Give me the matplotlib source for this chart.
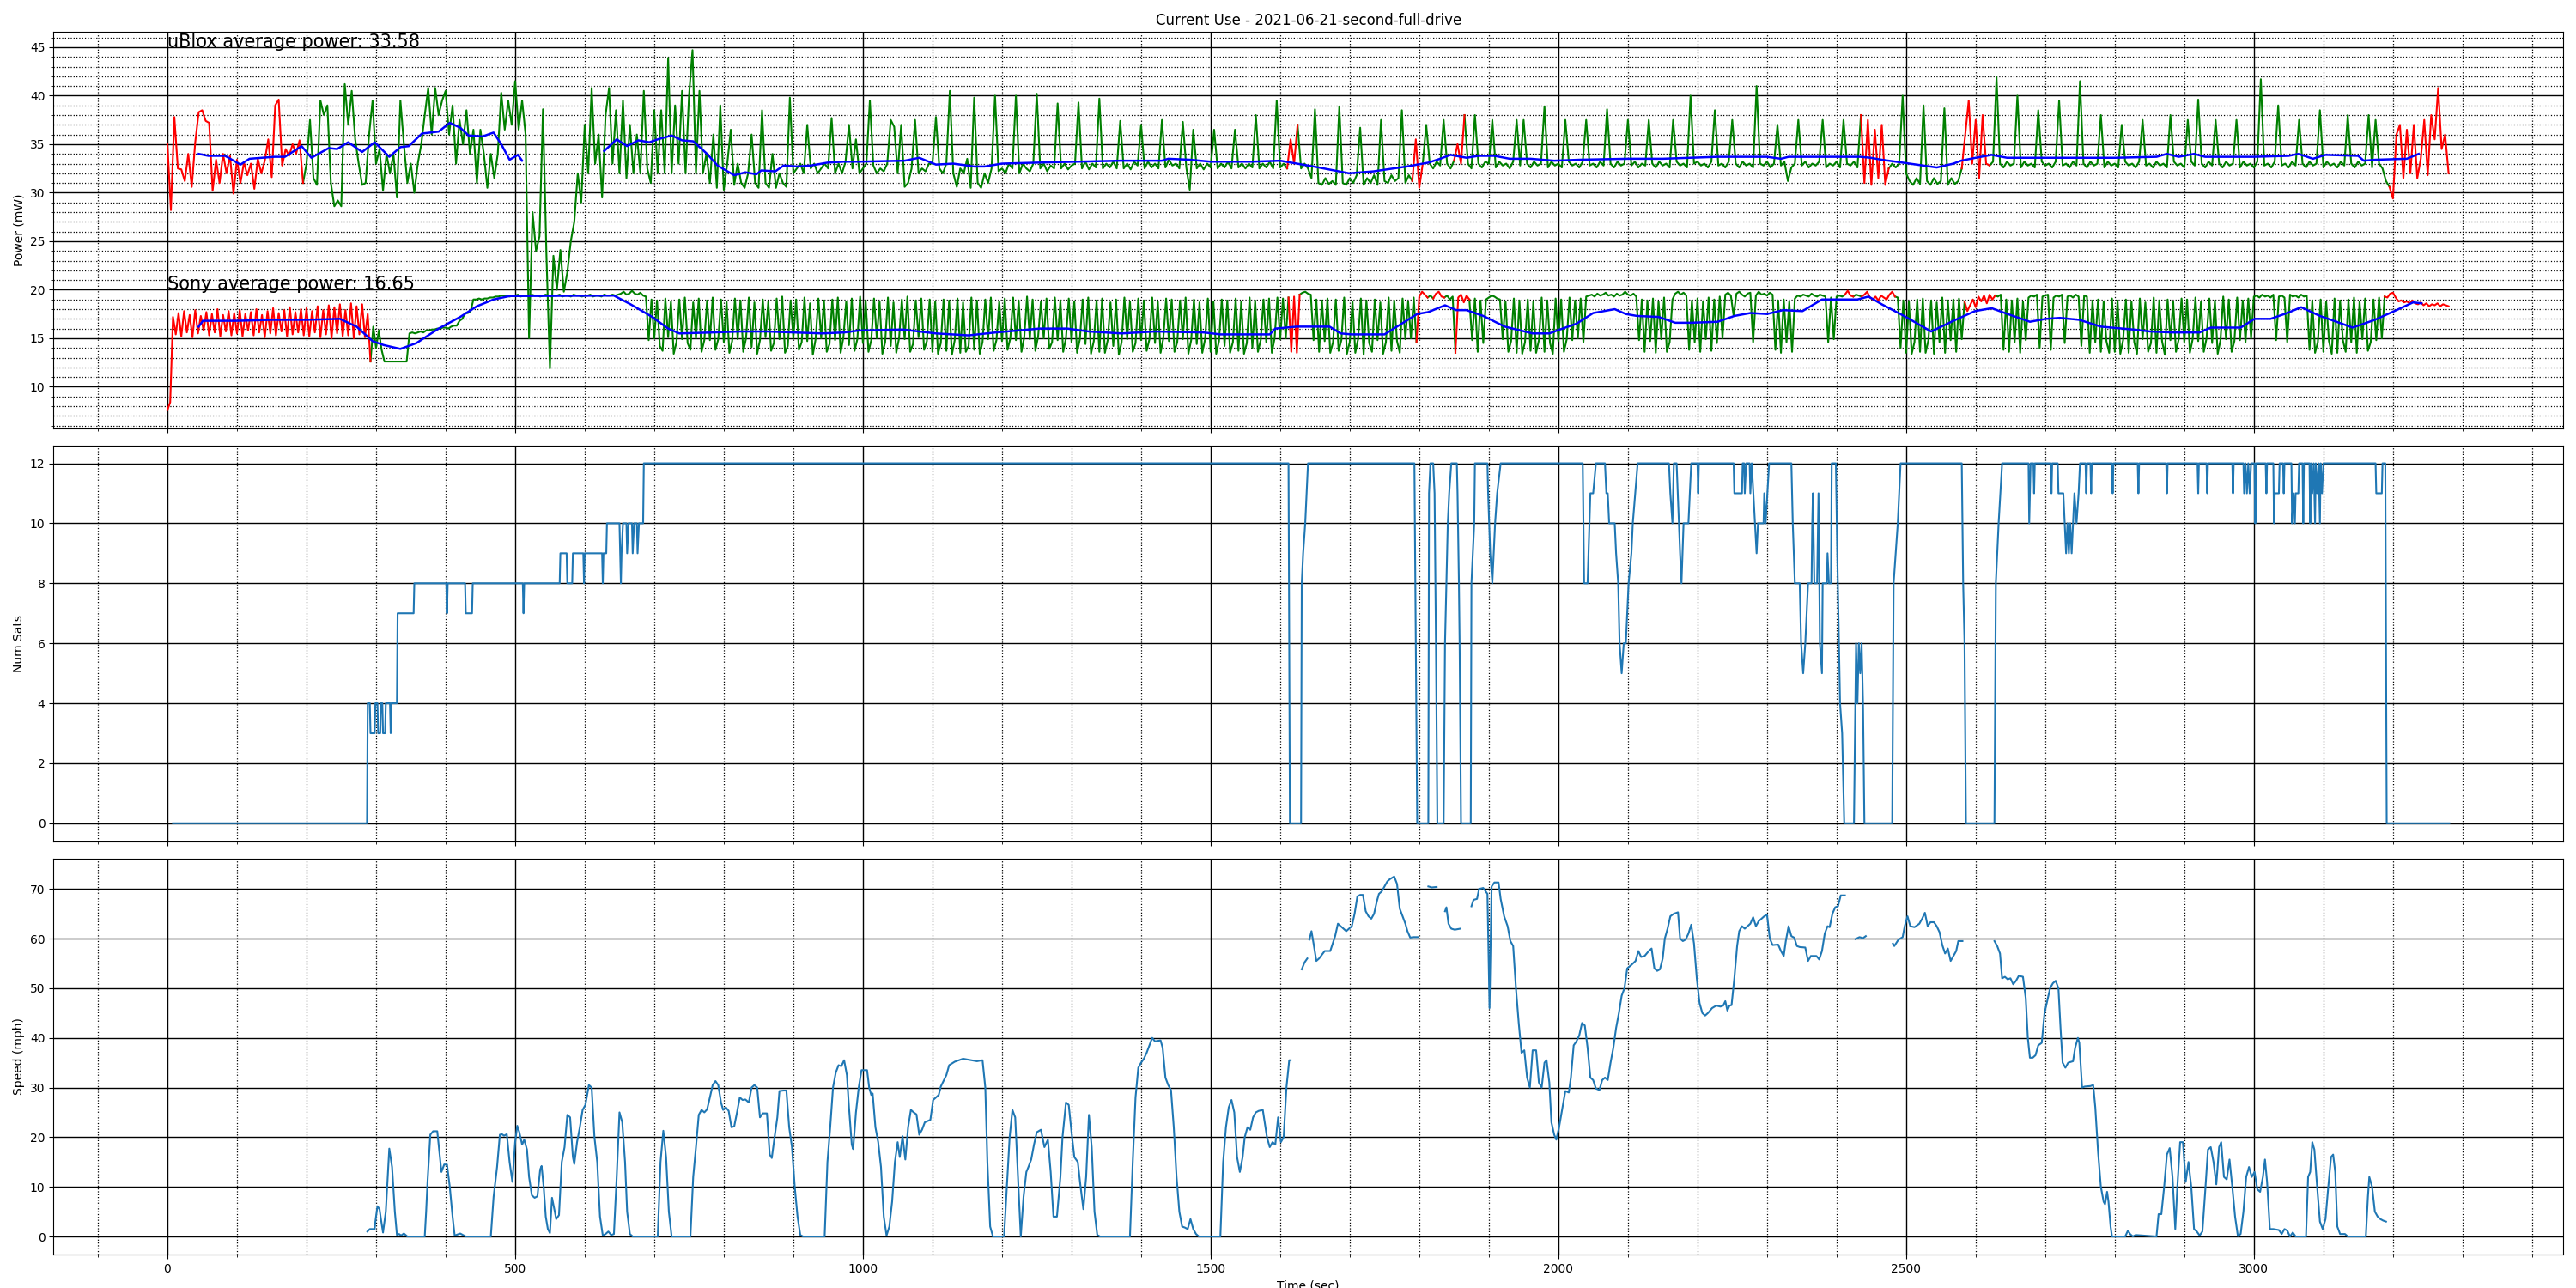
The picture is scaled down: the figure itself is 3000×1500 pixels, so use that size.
import numpy as np
import matplotlib
matplotlib.use("Agg")
import matplotlib.pyplot as plt
from matplotlib.ticker import MultipleLocator

# ---------------- DATA ----------------
title = "Current Use - 2021-06-21-second-full-drive"
ublox_label = "uBlox average power: 33.58"
sony_label = "Sony average power: 16.65"

# uBlox power (mW), sampled every 5 s from t=0
ublox_power = (
    [35.0, 28.2, 37.8, 32.5, 32.4, 31.2, 34.0, 30.6, 35.2, 38.3, 38.5, 37.4, 37.2, 30.2, 33.4, 31.0, 34.0, 32.0, 33.8, 29.9] +
    [33.4, 31.0, 33.1, 31.8, 33.0, 30.4, 33.5, 32.0, 33.3, 35.5, 31.6, 39.0, 39.6, 32.8, 34.5, 33.8, 35.0, 34.0, 35.4, 31.0] +
    [33.0, 37.5, 31.5, 30.8, 39.5, 38.0, 39.0, 31.0, 28.6, 29.2, 28.6, 41.2, 37.0, 40.5, 35.5, 33.0, 30.8, 31.0, 36.0, 39.5] +
    [33.0, 34.5, 30.2, 34.0, 32.0, 34.0, 29.5, 39.5, 35.0, 31.0, 33.0, 30.0, 33.0, 35.0, 38.0, 40.8, 36.0, 40.8, 38.0, 39.5] +
    [40.5, 36.0, 39.0, 33.0, 37.5, 35.0, 38.5, 34.0, 36.5, 31.0, 36.5, 34.0, 30.5, 34.0, 31.5, 34.0, 40.3, 36.5, 39.5, 37.0] +
    [41.5, 36.5, 39.5, 36.0, 15.0, 28.0, 24.0, 25.5, 38.6, 23.5, 11.9, 23.5, 20.0, 24.1, 19.8, 21.8, 25.0, 27.0, 32.0, 29.0] +
    [37.0, 32.0, 40.8, 33.0, 36.0, 29.5, 38.0, 40.8, 33.0, 38.5, 32.0, 39.5, 31.5, 37.0, 32.0, 36.0, 32.0, 40.5, 32.5, 31.0] +
    [38.5, 32.0, 38.5, 32.0, 43.9, 32.0, 39.0, 33.0, 40.5, 32.0, 40.0, 44.7, 32.0, 40.5, 32.0, 34.0, 31.0, 36.0, 30.5, 39.0] +
    [30.3, 33.0, 36.5, 30.8, 33.0, 31.0, 30.5, 32.0, 36.0, 31.0, 30.5, 38.5, 31.0, 30.5, 34.0, 30.5, 32.0, 31.0, 30.6, 39.8] +
    [32.0, 32.5, 33.0, 32.0, 37.0, 32.5, 33.0, 32.0, 32.5, 33.0, 32.5, 37.7, 32.0, 33.0, 32.0, 33.2, 37.0, 32.5, 35.5, 32.0] +
    [32.5, 33.0, 39.5, 32.8, 32.0, 32.5, 32.2, 33.0, 37.5, 36.8, 32.0, 37.0, 30.6, 31.0, 32.5, 37.5, 32.0, 32.5, 32.2, 33.0] +
    [33.0, 37.8, 32.5, 32.0, 33.0, 40.5, 32.0, 30.6, 32.5, 32.0, 33.5, 30.5, 39.8, 31.0, 30.5, 32.0, 31.0, 32.5, 40.0, 32.2] +
    [32.5, 32.0, 33.0, 32.5, 40.0, 32.0, 33.0, 32.5, 32.2, 33.0, 40.2, 32.5, 33.0, 32.2, 32.8, 32.5, 39.2, 32.5, 33.0, 32.4] +
    [32.8, 33.0, 39.3, 32.5, 33.2, 32.4, 33.0, 32.6, 39.7, 32.5, 33.0, 32.6, 33.2, 32.5, 37.4, 32.5, 33.0, 32.4, 33.2, 32.8] +
    [37.0, 32.5, 33.2, 32.6, 33.0, 32.5, 37.5, 32.6, 33.4, 32.8, 33.0, 32.5, 37.3, 32.6, 30.3, 36.5, 32.5, 33.0, 32.4, 33.0] +
    [32.6, 36.5, 32.5, 33.0, 32.6, 33.2, 32.5, 36.5, 32.6, 33.0, 32.5, 33.0, 32.6, 38.0, 32.5, 33.0, 32.6, 33.2, 32.5, 39.5] +
    [32.6, 33.0, 32.5, 35.5, 33.0, 37.0, 32.5, 33.0, 32.5, 31.5, 38.6, 31.0, 30.8, 31.5, 30.9, 31.2, 30.8, 38.9, 31.0, 30.8] +
    [31.5, 31.0, 31.8, 36.7, 30.8, 31.5, 31.0, 31.8, 30.8, 37.5, 31.2, 31.0, 31.8, 31.2, 31.5, 38.5, 31.0, 31.8, 31.2, 35.5] +
    [30.5, 33.0, 37.0, 33.0, 32.5, 33.2, 32.8, 37.5, 33.0, 32.5, 33.3, 35.0, 33.0, 38.0, 33.0, 32.5, 38.0, 33.0, 32.6, 33.2] +
    [33.0, 37.5, 32.6, 33.2, 32.8, 33.0, 32.5, 33.2, 37.5, 32.8, 37.5, 33.0, 32.6, 33.2, 32.8, 33.0, 38.9, 32.6, 33.2, 32.8] +
    [33.0, 32.6, 37.5, 33.2, 32.8, 33.0, 32.6, 33.2, 37.5, 32.8, 33.0, 32.6, 33.2, 32.8, 38.6, 33.0, 32.6, 33.2, 32.8, 33.0] +
    [37.5, 32.8, 33.2, 32.6, 33.0, 32.8, 37.5, 33.0, 32.6, 33.2, 32.8, 33.0, 32.6, 37.5, 33.2, 32.8, 33.0, 32.6, 40.0, 33.0] +
    [33.2, 32.8, 33.0, 32.6, 33.2, 38.5, 32.8, 33.0, 32.6, 33.2, 37.5, 33.0, 32.6, 33.2, 32.8, 33.0, 32.6, 41.0, 33.0, 32.8] +
    [33.2, 32.6, 33.0, 37.0, 32.8, 33.2, 31.2, 32.6, 33.0, 37.5, 32.8, 33.2, 32.6, 33.0, 32.8, 33.2, 37.5, 32.6, 33.0, 32.8] +
    [33.2, 32.6, 37.5, 33.0, 32.8, 33.2, 32.6, 38.0, 31.0, 37.5, 30.8, 36.5, 31.5, 37.0, 30.8, 32.5, 33.0, 32.6, 33.0, 40.0] +
    [32.0, 31.2, 30.8, 31.5, 30.9, 39.0, 31.2, 30.8, 31.5, 30.9, 31.2, 38.7, 30.8, 31.5, 30.9, 31.2, 32.5, 36.0, 39.5, 33.0] +
    [37.5, 31.5, 38.0, 33.0, 32.8, 33.2, 41.9, 33.0, 32.6, 33.2, 32.8, 33.0, 40.0, 32.6, 33.2, 32.8, 33.0, 32.6, 38.5, 33.2] +
    [32.8, 33.0, 32.6, 33.2, 39.5, 32.8, 33.0, 32.6, 33.2, 32.8, 41.5, 33.0, 32.6, 33.2, 32.8, 33.0, 38.0, 32.6, 33.2, 32.8] +
    [33.0, 32.6, 37.0, 33.2, 32.8, 33.0, 32.6, 33.2, 37.5, 32.8, 33.0, 32.6, 33.2, 32.8, 33.0, 32.6, 38.0, 33.2, 32.8, 33.0] +
    [32.6, 37.5, 33.2, 32.8, 39.6, 33.0, 32.6, 33.2, 32.8, 37.5, 33.0, 32.6, 33.2, 32.8, 33.0, 37.5, 32.6, 33.2, 32.8, 33.0] +
    [32.6, 33.2, 41.7, 32.8, 33.0, 32.6, 33.2, 39.0, 32.8, 33.0, 32.6, 33.2, 32.8, 37.5, 33.0, 32.6, 33.2, 32.8, 33.0, 38.5] +
    [32.6, 33.2, 32.8, 33.0, 32.6, 33.2, 32.8, 38.0, 33.0, 32.6, 33.2, 32.8, 33.0, 38.0, 32.6, 37.5, 33.0, 32.5, 31.2, 30.6] +
    [29.4, 36.0, 37.0, 31.5, 36.5, 32.0, 37.0, 31.5, 33.5, 37.5, 31.8, 38.0, 35.5, 40.8, 34.5, 36.0, 32.0]
)
ublox_step = 5
ublox_red_spans = [(0, 190), (1612, 1622), (1793, 1802), (1852, 1860),
                   (2438, 2473), (2582, 2617), (3197, 3285)]

# Sony power (mW), sampled every 4 s from t=0
sony_power = (
    [7.6, 8.4, 17.2, 15.4, 17.6, 15.2, 17.8, 15.6, 17.4, 15.1, 17.9, 15.5, 17.3, 15.8, 17.7, 15.3, 17.5, 15.6, 18.0, 15.2, 17.4, 15.7, 17.8, 15.3, 17.6] +
    [15.5, 17.9, 15.2, 17.5, 15.8, 17.7, 15.3, 18.0, 15.6, 17.4, 15.1, 17.8, 15.5, 18.1, 15.3, 17.6, 15.7, 17.9, 15.2, 18.2, 15.4, 17.7, 15.6, 18.0, 15.3] +
    [18.1, 15.2, 17.8, 15.6, 18.3, 15.1, 17.9, 15.4, 18.4, 15.0, 18.2, 15.5, 18.5, 15.2, 17.9, 15.3, 18.6, 15.0, 18.3, 15.4, 18.5, 15.1, 17.5, 12.6, 16.2] +
    [14.0, 15.8, 13.8, 12.6, 12.6, 12.6, 12.6, 12.6, 12.6, 12.6, 12.6, 12.6, 15.5, 15.6, 15.5, 15.6, 15.7, 15.6, 15.8, 15.8, 15.9, 15.9, 16.0, 16.0, 16.1] +
    [16.1, 16.0, 16.2, 16.3, 16.3, 16.8, 17.0, 17.6, 17.6, 17.8, 19.0, 19.0, 19.1, 19.0, 19.1, 19.1, 19.2, 19.2, 19.3, 19.3, 19.4, 19.4, 19.4, 19.3, 19.4] +
    [19.4, 19.5, 19.3, 19.4, 19.4, 19.3, 19.5, 19.4, 19.4, 19.3, 19.4, 19.5, 19.4, 19.3, 19.4, 19.4, 19.5, 19.3, 19.4, 19.4, 19.3, 19.5, 19.4, 19.4, 19.3] +
    [19.4, 19.4, 19.5, 19.3, 19.4, 19.4, 19.3, 19.5, 19.4, 19.4, 19.5, 19.4, 19.5, 19.6, 19.8, 19.5, 19.6, 19.9, 19.6, 19.5, 19.7, 19.4, 19.3, 14.8, 19.0] +
    [15.0, 18.9, 14.2, 13.7, 19.1, 15.1, 18.8, 13.4, 14.6, 19.0, 14.9, 19.2, 14.5, 13.8, 18.7, 15.0, 19.1, 13.6, 14.8, 18.9, 14.8, 19.2, 13.8, 14.9, 19.0] +
    [14.6, 18.8, 13.5, 14.7, 19.1, 14.9, 18.9, 13.6, 15.0, 19.2, 14.1, 18.7, 13.4, 14.8, 19.0, 15.1, 18.8, 13.7, 14.5, 19.1, 14.9, 19.3, 13.5, 14.2, 18.9] +
    [15.0, 19.0, 13.8, 14.6, 19.2, 14.7, 18.6, 13.3, 14.9, 19.1, 15.0, 18.9, 13.6, 14.4, 19.0, 14.8, 19.2, 13.5, 15.1, 18.8, 14.3, 19.1, 13.7, 14.9, 19.3] +
    [14.5, 18.9, 13.6, 14.8, 19.1, 15.0, 18.8, 13.4, 14.6, 19.2, 14.2, 18.7, 13.5, 15.0, 19.0, 14.9, 19.3, 13.6, 14.4, 18.9, 15.1, 19.1, 13.8, 14.7, 19.0] +
    [13.6, 18.8, 13.4, 14.5, 19.0, 13.7, 18.9, 13.3, 14.8, 19.1, 13.5, 18.7, 13.6, 14.2, 19.2, 13.8, 18.9, 13.4, 14.6, 19.0, 14.9, 19.2, 13.7, 14.8, 18.8] +
    [14.7, 19.1, 13.8, 15.0, 19.2, 14.8, 18.9, 13.6, 15.1, 19.3, 14.9, 19.0, 13.7, 15.2, 18.8, 15.0, 19.1, 13.9, 14.6, 19.2, 14.8, 18.9, 13.6, 15.0, 19.1] +
    [14.6, 18.8, 13.5, 14.9, 19.0, 14.4, 19.2, 13.4, 14.7, 18.9, 13.6, 19.1, 13.5, 14.8, 18.7, 14.2, 19.0, 13.3, 14.6, 19.2, 14.9, 18.8, 13.6, 14.5, 19.1] +
    [14.8, 18.9, 13.7, 14.9, 19.2, 14.5, 18.8, 13.5, 15.0, 19.1, 14.7, 19.0, 13.6, 14.6, 18.9, 14.9, 19.2, 13.4, 14.8, 19.0, 14.4, 18.7, 13.5, 14.9, 19.1] +
    [13.6, 18.8, 13.4, 14.7, 19.0, 14.2, 18.9, 13.5, 14.6, 19.1, 13.7, 18.8, 13.4, 14.5, 19.2, 14.0, 18.9, 13.6, 14.8, 19.0, 14.6, 19.1, 13.5, 15.0, 19.2] +
    [14.9, 19.1, 15.0, 19.2, 13.6, 19.3, 13.5, 19.5, 19.7, 19.8, 19.6, 19.5, 14.8, 19.0, 13.6, 18.9, 14.7, 19.1, 13.5, 14.6, 19.0, 13.7, 14.8, 19.2, 13.4] +
    [14.6, 18.8, 13.5, 14.9, 19.1, 13.3, 18.9, 14.5, 13.6, 19.0, 14.8, 18.7, 13.4, 14.6, 19.2, 13.7, 18.9, 14.7, 13.5, 19.1, 14.9, 18.8, 15.0, 19.2, 14.6] +
    [19.3, 19.8, 19.5, 19.2, 19.4, 19.1, 19.6, 19.8, 19.3, 19.2, 19.4, 19.0, 19.3, 13.5, 19.2, 19.5, 18.7, 19.4, 19.0, 14.8, 19.1, 13.6, 18.9, 14.5, 19.0] +
    [19.2, 19.4, 19.3, 19.1, 19.0, 14.9, 18.8, 13.6, 14.7, 19.1, 13.5, 18.9, 13.4, 14.6, 19.0, 13.7, 18.8, 13.5, 14.8, 19.2, 13.6, 18.9, 14.5, 13.4, 19.1] +
    [14.7, 19.0, 13.6, 14.9, 19.2, 14.8, 18.9, 15.0, 19.1, 14.6, 19.3, 19.4, 19.5, 19.3, 19.6, 19.4, 19.5, 19.7, 19.4, 19.5, 19.3, 19.6, 19.4, 19.5, 19.8] +
    [19.5, 19.4, 19.6, 19.3, 14.8, 19.0, 13.6, 18.9, 14.7, 19.1, 13.5, 18.8, 14.9, 19.2, 13.6, 14.6, 19.0, 19.6, 19.8, 19.5, 19.7, 19.4, 13.8, 18.9, 14.6] +
    [19.1, 13.6, 18.8, 14.9, 19.2, 13.7, 19.0, 14.5, 19.3, 15.0, 19.5, 19.7, 19.4, 17.3, 19.6, 19.8, 19.5, 19.3, 19.6, 19.7, 14.6, 19.4, 19.8, 19.5, 19.6] +
    [19.4, 19.7, 19.5, 13.8, 18.9, 13.5, 19.0, 14.6, 18.8, 13.6, 19.1, 19.4, 19.3, 19.5, 19.4, 19.3, 19.6, 19.4, 19.3, 19.5, 19.4, 19.3, 14.6, 19.2, 14.9] +
    [19.3, 19.4, 19.3, 19.5, 19.9, 19.4, 19.3, 19.5, 19.4, 19.3, 19.5, 19.8, 19.2, 19.0, 19.3, 18.9, 19.4, 19.2, 19.0, 19.5, 19.8, 19.3, 19.2, 14.0, 18.9] +
    [13.5, 18.8, 13.4, 14.6, 19.0, 13.6, 19.1, 13.5, 14.8, 18.9, 13.4, 18.7, 14.6, 19.2, 13.5, 18.9, 14.8, 19.0, 13.6, 19.1, 14.9, 18.8, 17.8, 18.4, 19.0] +
    [18.2, 19.3, 18.8, 19.4, 18.6, 19.5, 19.0, 19.4, 19.3, 19.5, 13.8, 19.0, 13.6, 18.9, 14.6, 19.1, 13.5, 18.8, 14.8, 19.2, 19.4, 19.3, 19.5, 14.0, 19.3] +
    [19.4, 19.5, 13.8, 19.2, 19.4, 19.3, 19.5, 14.5, 19.3, 19.4, 19.2, 19.5, 19.3, 14.2, 19.4, 19.3, 13.5, 18.9, 14.6, 19.0, 13.6, 18.8, 14.7, 13.5, 19.1] +
    [13.6, 18.9, 13.4, 14.8, 19.0, 13.5, 18.8, 14.6, 13.4, 19.1, 14.9, 18.7, 13.6, 14.5, 19.2, 13.5, 18.9, 14.7, 13.3, 19.0, 14.8, 18.8, 13.6, 14.9, 19.1] +
    [14.6, 19.0, 13.5, 14.9, 19.2, 14.7, 18.8, 13.6, 15.0, 19.1, 14.5, 18.9, 13.4, 14.8, 19.3, 14.9, 19.0, 13.6, 14.7, 19.2, 14.8, 18.9, 14.6, 19.1, 15.0] +
    [19.3, 19.4, 19.2, 19.5, 19.3, 19.4, 19.2, 19.5, 14.8, 19.3, 19.4, 19.2, 14.6, 19.5, 19.3, 19.4, 19.2, 19.5, 19.3, 19.4, 13.8, 18.9, 13.5, 14.6, 19.0] +
    [13.6, 18.8, 14.7, 13.4, 19.1, 13.5, 18.9, 14.8, 13.6, 19.0, 14.6, 19.2, 13.5, 18.8, 14.9, 19.1, 13.7, 14.6, 19.0, 14.8, 19.2, 15.0, 19.3, 19.2, 19.6] +
    [19.7, 19.2, 18.8, 18.9, 18.7, 18.8, 18.6, 18.9, 18.6, 18.5, 18.7, 18.4, 18.6, 18.3, 18.5, 18.4, 18.6, 18.3, 18.5, 18.4, 18.3]
)
sony_step = 4
sony_red_spans = [(0, 288), (1614, 1626), (1798, 1810), (1822, 1834), (1854, 1870),
                  (2414, 2422), (2440, 2482), (2586, 2627), (3190, 3285)]

# running averages (time s, mW)
ublox_avg = [(45, 34.0), (59, 33.8), (83, 33.8), (105, 32.9), (118, 33.5), (154, 33.7), (169, 33.7),
             (193, 34.8), (207, 33.6), (232, 34.6), (244, 34.5), (260, 35.2), (280, 34.2), (298, 35.2),
             (319, 33.7), (335, 34.7), (347, 34.8), (366, 36.1), (390, 36.3), (406, 37.2), (421, 36.7),
             (433, 35.9), (453, 35.8), (469, 36.2), (480, 35.0), (492, 33.4), (504, 33.9), (510, 33.3),
             (560, np.nan),
             (628, 34.3), (646, 35.5), (661, 34.8), (677, 35.4), (693, 35.2), (705, 35.5), (725, 35.9),
             (740, 35.4), (756, 35.3), (776, 34.0), (791, 32.8), (815, 31.8), (831, 32.1), (847, 31.9),
             (854, 32.3), (874, 32.2), (886, 32.8), (906, 32.7), (925, 32.8), (949, 33.1), (973, 33.2),
             (994, 33.2), (1060, 33.3), (1081, 33.6), (1105, 32.9), (1130, 33.0), (1160, 32.7),
             (1175, 32.7), (1200, 33.0), (1250, 33.1), (1309, 33.2), (1370, 33.3), (1430, 33.3),
             (1439, 33.5), (1470, 33.4), (1500, 33.2), (1560, 33.2), (1600, 33.3), (1616, 33.1),
             (1648, 32.7), (1670, 32.4), (1699, 32.0), (1734, 32.2), (1782, 32.7), (1813, 33.1),
             (1830, 33.5), (1845, 33.9), (1868, 33.6), (1885, 33.8), (1908, 33.8), (1930, 33.5),
             (1960, 33.5), (1994, 33.3), (2030, 33.4), (2100, 33.5), (2150, 33.5), (2229, 33.7),
             (2300, 33.7), (2320, 33.5), (2331, 33.7), (2434, 33.7), (2449, 33.6), (2465, 33.4),
             (2505, 33.0), (2544, 32.6), (2568, 33.0), (2579, 33.3), (2600, 33.6), (2623, 33.9),
             (2645, 33.6), (2700, 33.6), (2800, 33.6), (2860, 33.7), (2875, 34.0), (2892, 33.7),
             (2914, 34.0), (2930, 33.7), (3000, 33.7), (3050, 33.8), (3064, 34.0), (3085, 33.5),
             (3103, 33.9), (3150, 33.8), (3158, 33.3), (3175, 33.4), (3220, 33.5), (3237, 34.0)]

sony_avg = [(45, 16.2), (51, 16.8), (100, 16.8), (150, 16.9), (200, 16.9), (248, 17.0), (272, 16.2),
            (295, 14.7), (311, 14.3), (335, 13.9), (358, 14.5), (390, 16.0), (421, 17.2), (445, 18.3),
            (469, 19.0), (492, 19.35), (642, 19.4), (666, 18.5), (697, 17.2), (720, 16.0), (736, 15.5),
            (784, 15.6), (823, 15.7), (862, 15.7), (902, 15.6), (941, 15.5), (973, 15.6), (994, 15.8),
            (1057, 15.9), (1105, 15.5), (1152, 15.3), (1191, 15.6), (1254, 16.0), (1294, 16.0),
            (1325, 15.7), (1372, 15.5), (1420, 15.7), (1490, 15.6), (1514, 15.4), (1585, 15.4),
            (1593, 16.0), (1624, 16.2), (1671, 16.2), (1687, 15.5), (1703, 15.4), (1750, 15.4),
            (1797, 17.5), (1813, 17.7), (1837, 18.4), (1853, 17.9), (1868, 17.9), (1892, 17.3),
            (1923, 16.2), (1963, 15.5), (1987, 15.5), (2002, 15.9), (2026, 16.5), (2050, 17.6),
            (2081, 18.0), (2097, 17.5), (2113, 17.3), (2144, 17.2), (2168, 16.6), (2191, 16.6),
            (2229, 16.7), (2253, 17.3), (2276, 17.6), (2300, 17.5), (2323, 17.9), (2351, 17.8),
            (2379, 19.0), (2430, 19.0), (2446, 19.3), (2465, 18.5), (2497, 17.3), (2536, 15.7),
            (2568, 16.8), (2599, 17.8), (2623, 18.1), (2646, 17.5), (2678, 16.7), (2701, 17.0),
            (2721, 17.1), (2749, 16.9), (2780, 16.2), (2827, 15.9), (2851, 15.7), (2883, 15.6),
            (2922, 15.6), (2938, 16.1), (2981, 16.1), (3001, 17.0), (3024, 17.0), (3048, 17.6),
            (3068, 18.2), (3095, 17.3), (3119, 16.7), (3142, 16.1), (3174, 16.9), (3205, 17.9),
            (3229, 18.7), (3241, 18.6)]

# number of satellites (time s, count)
num_sats = [
    (8, 0), (287, 0), (288, 4), (291, 4), (292, 3), (298, 3), (299, 4), (302, 4), (303, 3), (306, 3),
    (307, 4), (309, 4), (310, 3), (313, 3), (314, 4), (320, 4), (321, 3), (322, 4), (330, 4), (331, 7),
    (354, 7), (355, 8), (401, 8), (402, 7), (403, 8), (428, 8), (429, 7), (438, 7), (439, 8), (511, 8),
    (512, 7), (513, 8), (564, 8), (565, 9), (574, 9), (575, 8), (582, 8), (583, 9), (598, 9), (599, 8),
    (600, 9), (625, 9), (626, 8), (627, 9), (631, 9), (632, 10), (650, 10), (651, 9), (652, 8), (653, 9),
    (655, 10), (660, 10), (661, 9), (663, 10), (668, 10), (669, 9), (671, 10), (675, 10), (676, 9),
    (678, 10), (684, 10), (685, 12),
    (1612, 12), (1614, 0), (1630, 0), (1631, 8), (1633, 9), (1636, 10), (1640, 12),
    (1793, 12), (1797, 0), (1813, 0), (1814, 11), (1816, 12), (1820, 12), (1822, 11), (1824, 6), (1826, 0),
    (1835, 0), (1837, 6), (1839, 8), (1841, 10), (1843, 11), (1846, 12), (1854, 12), (1855, 11),
    (1857, 8), (1858, 6), (1860, 0), (1874, 0), (1875, 8), (1877, 9), (1879, 10), (1880, 12), (1898, 12),
    (1899, 11), (1902, 9), (1905, 8), (1909, 10), (1912, 11), (1917, 12),
    (2035, 12), (2037, 8), (2042, 8), (2046, 11), (2050, 11), (2054, 12), (2067, 12), (2069, 11),
    (2071, 11), (2073, 10), (2081, 10), (2083, 9), (2086, 8), (2088, 6), (2091, 5), (2094, 6), (2097, 6),
    (2101, 8), (2105, 9), (2107, 10), (2114, 12),
    (2159, 12), (2161, 11), (2164, 10), (2166, 12), (2170, 12), (2175, 9), (2177, 8), (2180, 10),
    (2187, 10), (2191, 12), (2200, 12), (2201, 11), (2202, 12), (2252, 12), (2253, 11), (2264, 11),
    (2265, 12), (2267, 12), (2268, 11), (2270, 12), (2275, 12), (2276, 11), (2278, 12), (2285, 9),
    (2287, 10), (2295, 10), (2296, 11), (2298, 10), (2303, 12),
    (2335, 12), (2337, 10), (2340, 8), (2347, 8), (2349, 6), (2352, 5), (2355, 6), (2359, 8), (2364, 8),
    (2365, 10), (2366, 11), (2368, 8), (2372, 8), (2374, 11), (2376, 6), (2379, 5), (2380, 8), (2386, 8),
    (2387, 9), (2389, 8), (2392, 8), (2393, 12), (2399, 12), (2401, 9), (2405, 4), (2408, 3), (2411, 0),
    (2425, 0), (2428, 6), (2430, 4), (2432, 6), (2434, 5), (2436, 6), (2438, 4), (2440, 0), (2480, 0),
    (2482, 8), (2485, 9), (2488, 10), (2492, 12),
    (2580, 12), (2582, 8), (2584, 6), (2586, 0), (2627, 0), (2629, 8), (2633, 10), (2638, 12),
    (2676, 12), (2677, 10), (2679, 12), (2683, 12), (2684, 11), (2685, 12), (2708, 12), (2709, 11),
    (2710, 12), (2718, 12), (2719, 11), (2726, 11), (2728, 10), (2730, 9), (2732, 10), (2734, 9),
    (2736, 10), (2738, 9), (2740, 10), (2742, 11), (2745, 10), (2748, 11), (2750, 12), (2758, 12),
    (2759, 11), (2760, 12), (2765, 12), (2766, 11), (2767, 12), (2796, 12), (2797, 11), (2798, 12),
    (2833, 12), (2834, 11), (2835, 12), (2874, 12), (2875, 11), (2876, 12), (2919, 12), (2920, 11),
    (2921, 12), (2932, 12), (2933, 11), (2934, 12), (2969, 12), (2970, 11), (2971, 12), (2985, 12),
    (2986, 11), (2988, 12), (2990, 11), (2992, 12), (2994, 11), (2996, 12), (3001, 12), (3002, 10),
    (3003, 12), (3017, 12), (3018, 11), (3019, 12), (3028, 12), (3029, 10), (3030, 11), (3036, 11),
    (3037, 12), (3042, 12), (3043, 11), (3044, 12), (3054, 12), (3055, 10), (3057, 11), (3059, 10),
    (3060, 11), (3064, 11), (3065, 12), (3070, 12), (3071, 10), (3072, 12), (3080, 12), (3081, 10),
    (3082, 12), (3084, 11), (3086, 12), (3088, 10), (3089, 12), (3091, 11), (3093, 12), (3095, 10),
    (3096, 12), (3098, 11), (3100, 12),
    (3175, 12), (3176, 11), (3184, 11), (3185, 12), (3189, 12), (3191, 0), (3281, 0)]

# speed (time s, mph); nan marks gaps without a fix
nan = np.nan
speed = [
    (287.5, 1.0), (291, 1.5), (298, 1.5), (299, 3), (302, 6.1), (305, 5.5), (307, 3.5), (310, 0.8),
    (314, 5), (319, 17.7), (323, 14), (327, 5), (330, 0.3), (333, 0.5), (336, 0.2), (340, 0.6), (345, 0),
    (370, 0), (372, 5), (374, 11), (378, 20.5), (382, 21.2), (388, 21.2), (390, 18.5), (394, 13),
    (398, 14.5), (402, 14.5), (406, 10), (410, 4), (413, 0.2), (417, 0.4), (421, 0.6), (425, 0.3),
    (429, 0), (465, 0), (469, 8), (474, 14), (478, 20.5), (481, 20.6), (484, 20.3), (488, 20.6),
    (492, 15), (496, 11), (500, 19), (503, 22.3), (506, 21), (510, 18.5), (513, 19.5), (517, 17.5),
    (520, 12), (524, 8.3), (528, 7.8), (532, 8.1), (536, 13.5), (538, 14.2), (541, 10), (544, 4),
    (547, 1.5), (550, 0.7), (553, 7.8), (557, 5), (559, 3.5), (563, 4.3), (567, 15), (571, 18),
    (575, 24.5), (579, 24), (583, 16), (585, 14.6), (589, 19), (593, 22), (597, 25.5), (601, 26.5),
    (606, 30.5), (610, 30), (614, 20), (618, 15), (622, 4), (626, 0.2), (630, 0.5), (634, 1),
    (638, 0.3), (642, 0.5), (646, 12), (650, 25), (654, 23), (658, 15), (661, 5), (665, 0.5), (669, 0),
    (705, 0), (709, 15), (713, 21.3), (717, 16), (721, 5), (725, 0), (752, 0), (756, 12), (760, 18),
    (764, 24.5), (768, 25.5), (772, 25), (776, 25.6), (780, 28), (784, 30.5), (788, 31.3), (792, 30.5),
    (796, 27), (799, 25.5), (803, 26), (807, 25.3), (811, 22), (815, 22.2), (819, 25), (823, 28),
    (827, 27.5), (831, 27.6), (836, 27), (840, 30), (844, 30.5), (848, 30), (852, 24), (856, 24.8),
    (862, 24.8), (866, 16.5), (869, 15.8), (873, 20), (877, 24), (880, 29.3), (886, 29.4), (890, 29.4),
    (894, 22), (898, 18), (902, 10), (906, 4), (910, 0.3), (914, 0), (945, 0), (949, 15), (953, 22),
    (957, 30), (961, 33), (965, 34.5), (969, 34.3), (973, 35.5), (977, 32.5), (980, 26), (984, 18.5),
    (986, 17.6), (990, 25), (994, 30), (998, 33.5), (1006, 33.5), (1009, 30), (1012, 28.5),
    (1014, 28.8), (1018, 22), (1022, 19), (1026, 14), (1030, 4), (1034, 0.2), (1038, 2), (1042, 7),
    (1046, 15), (1050, 19), (1053, 16), (1057, 20.2), (1061, 15.5), (1065, 22), (1069, 25.5),
    (1073, 25), (1077, 24.6), (1081, 20.5), (1085, 21.5), (1089, 23), (1097, 23.5), (1101, 27.5),
    (1109, 28.5), (1112, 30.2), (1120, 32.5), (1124, 34.5), (1132, 35.2), (1144, 35.8), (1152, 35.6),
    (1164, 35.3), (1172, 35.5), (1176, 30), (1179, 15), (1183, 2), (1187, 0), (1203, 0), (1207, 10),
    (1211, 20), (1215, 25.5), (1219, 24), (1223, 12), (1227, 0), (1231, 8), (1235, 13), (1238, 14),
    (1242, 15.5), (1246, 18.5), (1250, 21), (1256, 21.5), (1261, 18), (1266, 19.5), (1270, 13),
    (1274, 4), (1279, 4), (1284, 12), (1287, 20), (1292, 27), (1296, 26.5), (1300, 21), (1304, 16),
    (1309, 15), (1313, 10), (1317, 5.5), (1321, 12), (1325, 24.5), (1329, 18), (1333, 5), (1337, 0.3),
    (1341, 0), (1384, 0), (1388, 15), (1392, 28), (1396, 34), (1400, 35), (1404, 35.8), (1408, 37),
    (1412, 38.5), (1416, 40), (1420, 39.3), (1428, 39.5), (1431, 38), (1435, 32), (1439, 30.5),
    (1443, 29.5), (1447, 22), (1451, 12), (1455, 5), (1459, 2), (1463, 1.8), (1467, 1.5), (1471, 3.5),
    (1475, 1.5), (1479, 0.5), (1483, 0), (1514, 0), (1518, 15), (1522, 22), (1526, 26), (1530, 27.5),
    (1534, 25), (1538, 16), (1542, 13), (1546, 16), (1549, 20), (1553, 22), (1557, 21.5), (1561, 24),
    (1565, 25), (1569, 25.3), (1575, 25.5), (1581, 20), (1585, 18), (1589, 19), (1593, 18.5),
    (1597, 24), (1601, 19), (1605, 20), (1609, 30), (1613, 35.5), (1615, 35.5),
    (1623, nan),
    (1631, 53.8), (1635, 55.2), (1639, 56.0),
    (1640.5, nan),
    (1642, 59.8), (1645, 61.5), (1648, 59), (1652, 55.5), (1656, 56), (1664, 57.5), (1672, 57.5),
    (1675, 58.8), (1679, 60.5), (1683, 63), (1687, 62.5), (1695, 61.5), (1703, 62.5), (1707, 65),
    (1711, 68.5), (1715, 68.8), (1719, 68.8), (1723, 65.5), (1727, 64.5), (1731, 64), (1735, 65),
    (1739, 67.5), (1742, 69), (1746, 69.5), (1750, 70.5), (1754, 71.5), (1758, 72), (1764, 72.5),
    (1768, 71), (1772, 66), (1776, 64.5), (1780, 63), (1783, 61.5), (1787, 60.2), (1791, 60.3),
    (1798, 60.3),
    (1805, nan),
    (1813, 70.5), (1818, 70.3), (1825, 70.4),
    (1831, nan),
    (1837, 65.5), (1839, 66.3), (1842, 63), (1846, 62), (1851, 61.8), (1859, 62),
    (1867, nan),
    (1875, 66.5), (1878, 67.8), (1883, 68), (1886, 70), (1892, 70.2), (1898, 69), (1901, 46),
    (1904, 70.5), (1908, 71.3), (1914, 71.3), (1917, 68), (1922, 64.5), (1927, 62.5), (1931, 59.5),
    (1935, 58.5), (1939, 50), (1943, 43), (1947, 37), (1951, 37.5), (1955, 32), (1959, 30),
    (1963, 37.5), (1968, 37.5), (1972, 31), (1976, 30), (1980, 35), (1983, 35.5), (1987, 31),
    (1990, 23), (1994, 20.5), (1997, 19.5), (2001, 22), (2006, 26), (2010, 29.3), (2015, 29),
    (2018, 32), (2022, 38.5), (2026, 39.3), (2030, 40.5), (2034, 43), (2038, 42.5), (2042, 38),
    (2046, 32), (2050, 31.5), (2054, 29.8), (2059, 29.5), (2063, 31.5), (2067, 32), (2071, 31.5),
    (2075, 35), (2079, 38), (2083, 42), (2087, 45), (2091, 48.5), (2095, 50), (2099, 54),
    (2105, 54.7), (2111, 55.5), (2115, 57.5), (2119, 56.3), (2124, 56.5), (2130, 57.5), (2134, 58),
    (2138, 54), (2142, 53.5), (2146, 53.8), (2150, 56), (2153, 60), (2157, 62), (2161, 64.5),
    (2166, 65), (2172, 65.3), (2175, 60), (2179, 59.5), (2183, 59.8), (2187, 61), (2191, 62.8),
    (2195, 59), (2199, 52), (2203, 47), (2207, 45), (2211, 44.5), (2215, 45), (2221, 46),
    (2227, 46.5), (2233, 46.3), (2237, 46.5), (2240, 47.4), (2243, 45.5), (2246, 46.5), (2249, 46.6),
    (2253, 52), (2257, 58.5), (2260, 61.5), (2264, 62.5), (2268, 62), (2272, 62.5), (2276, 63),
    (2280, 64.3), (2284, 62.5), (2288, 63.5), (2292, 64), (2296, 64.5), (2300, 64.8), (2304, 60),
    (2308, 58.7), (2316, 58.8), (2320, 57.5), (2324, 56.5), (2327, 59.5), (2331, 62.5), (2335, 60.5),
    (2339, 60.2), (2343, 58.5), (2347, 58.3), (2355, 58.2), (2359, 55.5), (2363, 56.5), (2371, 56.5),
    (2375, 55.8), (2379, 57.5), (2383, 61), (2387, 62.5), (2390, 62.3), (2394, 65), (2398, 66.3),
    (2402, 66.5), (2406, 68.7), (2412, 68.7),
    (2420, nan),
    (2427, 59.9), (2433, 60.3), (2438, 60.1), (2442, 60.5),
    (2460, nan),
    (2481, 59), (2483, 58.5), (2489, 59.8), (2495, 60.3), (2498, 62.5), (2502, 64.5), (2506, 62.5),
    (2512, 62.3), (2519, 63), (2523, 64), (2527, 65.2), (2531, 62.5), (2535, 63.3), (2540, 63.3),
    (2544, 62.5), (2548, 61.3), (2552, 58.7), (2556, 57), (2560, 58), (2564, 55.5), (2568, 56.5),
    (2572, 57.5), (2575, 59.5), (2581, 59.5),
    (2600, nan),
    (2627, 59.5), (2631, 58.5), (2635, 57), (2638, 52), (2642, 52.3), (2646, 51.8), (2650, 52),
    (2654, 50.8), (2658, 51.5), (2662, 52.5), (2668, 52.3), (2672, 48), (2675, 40), (2678, 36),
    (2682, 36), (2686, 36.5), (2690, 38.5), (2695, 39), (2699, 45), (2703, 47.5), (2707, 50),
    (2711, 51), (2715, 51.5), (2719, 50), (2722, 42), (2725, 35), (2729, 34), (2733, 35),
    (2740, 35.3), (2743, 38), (2747, 40), (2749, 39), (2753, 30), (2757, 30.2), (2765, 30.3),
    (2769, 30.5), (2772, 26), (2776, 17), (2780, 10), (2784, 7), (2786, 6.5), (2789, 9), (2791, 7),
    (2794, 2), (2796, 0), (2815, 0), (2819, 1.2), (2822, 0.5), (2826, 0), (2830, 0.3), (2860, 0),
    (2863, 4.5), (2867, 4.5), (2871, 10), (2875, 16.5), (2879, 17.8), (2883, 12), (2887, 1.5),
    (2890, 10), (2894, 19), (2898, 19), (2902, 11), (2906, 15), (2910, 10), (2914, 1.5), (2918, 1),
    (2922, 0.2), (2926, 1), (2930, 9), (2934, 17.5), (2938, 18), (2942, 15), (2946, 10.5), (2950, 18),
    (2953, 19), (2957, 12), (2961, 11.5), (2965, 15.5), (2969, 10), (2973, 4), (2977, 0.1),
    (2981, 0.5), (2985, 5), (2989, 12), (2993, 14), (2997, 12), (3001, 13), (3005, 9.5), (3009, 9),
    (3013, 12), (3016, 15.5), (3019, 11), (3023, 1.5), (3028, 1.5), (3036, 1.3), (3040, 0.5),
    (3044, 1.5), (3048, 1.2), (3052, 0), (3056, 0.8), (3060, 0), (3075, 0), (3078, 12), (3081, 13),
    (3084, 19), (3087, 17.5), (3091, 10), (3095, 3), (3099, 1.5), (3103, 3.5), (3107, 10), (3111, 16),
    (3114, 16.5), (3117, 13), (3120, 2), (3124, 0.5), (3131, 0.5), (3135, 0), (3161, 0), (3164, 8),
    (3166, 12), (3170, 10), (3174, 5), (3178, 4), (3182, 3.5), (3186, 3.2), (3190, 3.0)]


# ---------------- PLOT ----------------
def split_red(t, v, spans):
    red = np.zeros(len(t), dtype=bool)
    for a, b in spans:
        red |= (t >= a) & (t <= b)
    red_d = red.copy()
    red_d[1:] |= red[:-1]
    red_d[:-1] |= red[1:]
    green = np.where(~red, v, np.nan)
    redv = np.where(red_d, v, np.nan)
    return green, redv


u = np.array(ublox_power, dtype=float)
tu = np.arange(len(u)) * ublox_step
s = np.array(sony_power, dtype=float)
ts = np.arange(len(s)) * sony_step

ug, ur = split_red(tu, u, ublox_red_spans)
sg, sr = split_red(ts, s, sony_red_spans)

ua = np.array(ublox_avg, dtype=float)
sa = np.array(sony_avg, dtype=float)
ns = np.array(num_sats, dtype=float)
sp = np.array(speed, dtype=float)

fig, axes = plt.subplots(3, 1, figsize=(30, 15), dpi=100, sharex=True)
fig.subplots_adjust(left=0.0207, right=0.9951, top=0.9751, bottom=0.026, hspace=0.0435)
ax0, ax1, ax2 = axes

ax0.plot(tu, ug, color='g', lw=1.5)
ax0.plot(tu, ur, color='r', lw=1.5)
ax0.plot(ua[:, 0], ua[:, 1], color='b', lw=1.8)
ax0.plot(ts, sg, color='g', lw=1.5)
ax0.plot(ts, sr, color='r', lw=1.5)
ax0.plot(sa[:, 0], sa[:, 1], color='b', lw=1.8)
ax0.text(0, 45, ublox_label, fontsize=15)
ax0.text(0, 20, sony_label, fontsize=15)
ax0.set_ylabel("Power (mW)")
ax0.set_title(title, fontsize=12)
ax0.yaxis.set_major_locator(MultipleLocator(5))
ax0.yaxis.set_minor_locator(MultipleLocator(1))

ax1.plot(ns[:, 0], ns[:, 1], color='C0', lw=1.5)
ax1.set_ylabel("Num Sats")

ax2.plot(sp[:, 0], sp[:, 1], color='C0', lw=1.5)
ax2.set_ylabel("Speed (mph)")
ax2.set_xlabel("Time (sec)")

ax2.xaxis.set_major_locator(MultipleLocator(500))
ax2.xaxis.set_minor_locator(MultipleLocator(100))

for ax in axes:
    ax.grid(which='major', color='k', linestyle='-', linewidth=1.0)
    ax.grid(which='minor', color='k', linestyle=':', linewidth=0.9)

fig.savefig("out.png", dpi=100)
